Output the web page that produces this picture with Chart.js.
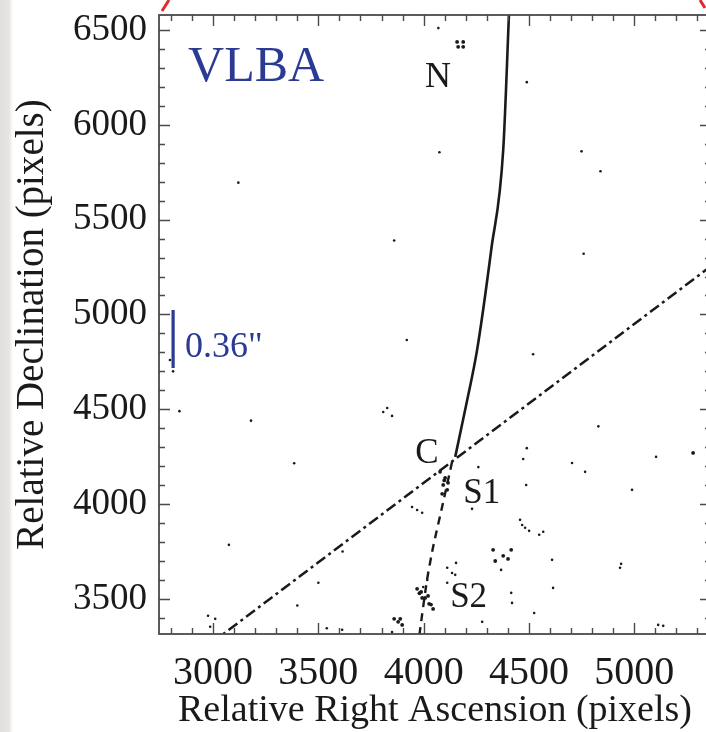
<!DOCTYPE html>
<html>
<head>
<meta charset="utf-8">
<title>VLBA</title>
<script src="https://cdn.jsdelivr.net/npm/chart.js@4.4.1/dist/chart.umd.min.js"></script>
<style>
  html, body { margin: 0; padding: 0; }
  body {
    width: 706px; height: 732px; overflow: hidden;
    background: linear-gradient(to right, #e2e0de 0, #e7e5e3 9px, #ffffff 13px);
  }
  #chart { display: block; }
</style>
</head>
<body>
<!-- canvas is a bit wider than the window: the right frame falls just outside, as in the original -->
<canvas id="chart" width="730" height="732"></canvas>
<script>
  // axis ticks
  const xTicks = [3000, 3500, 4000, 4500, 5000];
  const yTicks = [3500, 4000, 4500, 5000, 5500, 6000, 6500];

  // solid curve C -> N
  const jetX = [4150, 4207, 4254, 4321, 4378, 4406];
  const jetY = [4249, 4549, 4813, 5340, 5867, 6600];

  // dash-dot straight line
  const axisX = [2990, 5400];
  const axisY = [3266, 5284];

  // dashed line C -> S2
  const counterX = [4135, 4092, 4045, 4016, 3983, 3978];
  const counterY = [4222, 4006, 3774, 3600, 3337, 3290];

  // 0.36" scale bar
  const barX = [2810, 2810];
  const barY = [5024, 4718];

  // isolated noise contours
  const noiseX = [4070, 4490, 4075, 4750, 4840, 3120, 3860, 4760, 3920, 4520, 2795, 2810,
    2840, 3180, 3385, 3075, 3615, 3500, 3400, 3540, 3613, 3850, 4260, 4490, 4473, 4487,
    4230, 3945, 3969, 3993, 4830, 4705, 4767, 5104, 4990, 4368, 4610, 4938, 4933, 4615,
    4416, 4420, 4525, 5114, 5138, 4278, 4112, 4135, 4150, 4154, 4112, 3998, 4017,
    2976, 2986, 3010, 3808, 3827, 3850, 4549, 4568, 4458, 4468, 4482, 4501];
  const noiseY = [6510, 6225, 5855, 5860, 5755, 5695, 5390, 5320, 4865, 4790, 4760, 4700,
    4490, 4440, 4215, 3785, 3750, 3585, 3465, 3345, 3337, 3325, 4195, 4295, 4238, 4101,
    3975, 3985, 3969, 3954, 4410, 4217, 4170, 4249, 4075, 3653, 3706, 3685, 3664, 3558,
    3532, 3479, 3426, 3363, 3358, 3379, 3664, 3637, 3627, 3690, 3585, 3563, 3600,
    3411, 3353, 3395, 4486, 4507, 4465, 3838, 3854, 3917, 3890, 3875, 3859];

  // knots: N, C/S1, S2 and the larger blobs
  const knotX = [4159, 4188, 4164, 4188,
    4078, 4102, 4093, 4112, 4088, 4116, 4098,
    3969, 3988, 4007, 4026, 4045, 3993, 4021, 3980, 4035,
    3860, 3879, 3898, 3889,
    4330, 4378, 4416, 4401, 4340,
    5280];
  const knotY = [6437, 6437, 6411, 6411,
    4170, 4138, 4101, 4075, 4054, 4112, 4125,
    3553, 3537, 3505, 3474, 3447, 3505, 3516, 3530, 3470,
    3395, 3379, 3363, 3395,
    3759, 3727, 3759, 3711, 3700,
    4270];

  const BLUE = '#2b3a92';
  const INK = '#1a1a1a';
  const SERIF = '"Liberation Serif", "Times New Roman", serif';

  const pts = (xs, ys) => xs.map((x, i) => ({ x, y: ys[i] }));

  // inward ticks on all four sides + frame
  const frame = {
    id: 'frame',
    afterDatasetsDraw(chart) {
      const { ctx, chartArea: a, scales } = chart;
      const sx = scales.x, sy = scales.y;
      ctx.save();
      ctx.strokeStyle = '#4a4a4a';
      ctx.lineWidth = 1.4;
      ctx.beginPath();
      for (let v = Math.ceil(sx.min / 100) * 100; v <= sx.max; v += 100) {
        const p = Math.round(sx.getPixelForValue(v)) + 0.5;
        const len = v % 500 === 0 ? 11 : 6;
        ctx.moveTo(p, a.bottom); ctx.lineTo(p, a.bottom - len);
        ctx.moveTo(p, a.top); ctx.lineTo(p, a.top + len);
      }
      for (let v = Math.ceil(sy.min / 100) * 100; v <= sy.max; v += 100) {
        const p = Math.round(sy.getPixelForValue(v)) + 0.5;
        const len = v % 500 === 0 ? 11 : 6;
        ctx.moveTo(a.left, p); ctx.lineTo(a.left + len, p);
        ctx.moveTo(a.right, p); ctx.lineTo(a.right - len, p);
      }
      ctx.stroke();
      ctx.lineWidth = 1.8;
      ctx.strokeRect(a.left, a.top, a.right - a.left, a.bottom - a.top);

      // red marks peeking in above the frame
      ctx.strokeStyle = '#e42a2a';
      ctx.lineWidth = 3;
      ctx.beginPath();
      ctx.moveTo(162, 11); ctx.lineTo(169, 0);
      ctx.moveTo(700, 0); ctx.lineTo(705, 8);
      ctx.stroke();
      ctx.restore();
    }
  };

  const labels = {
    id: 'labels',
    afterDatasetsDraw(chart, args, opts) {
      const { ctx, scales } = chart;
      ctx.save();
      ctx.textAlign = 'left';
      ctx.textBaseline = 'alphabetic';
      opts.items.forEach(t => {
        ctx.font = `${t.size}px ${SERIF}`;
        ctx.fillStyle = t.color || INK;
        ctx.fillText(t.text, scales.x.getPixelForValue(t.x), scales.y.getPixelForValue(t.y));
      });
      ctx.restore();
    }
  };

  new Chart(document.getElementById('chart'), {
    type: 'scatter',
    data: {
      datasets: [
        { data: pts(noiseX, noiseY), pointRadius: 1.3, pointBackgroundColor: INK, pointBorderWidth: 0 },
        { data: pts(knotX, knotY), pointRadius: 1.9, pointBackgroundColor: INK, pointBorderWidth: 0 },
        { data: pts(jetX, jetY), showLine: true, cubicInterpolationMode: 'monotone', borderColor: INK, borderWidth: 2.6, pointRadius: 0 },
        { data: pts(axisX, axisY), showLine: true, borderColor: INK, borderWidth: 2.5, borderDash: [11, 4, 3, 4], pointRadius: 0 },
        { data: pts(counterX, counterY), showLine: true, tension: 0.2, borderColor: INK, borderWidth: 2.4, borderDash: [8, 6], pointRadius: 0 },
        { data: pts(barX, barY), showLine: true, borderColor: BLUE, borderWidth: 3.2, pointRadius: 0, clip: false }
      ]
    },
    options: {
      responsive: false,
      animation: false,
      events: [],
      layout: { padding: { top: 15, right: 19, left: 0, bottom: 0 } },
      plugins: {
        legend: { display: false },
        tooltip: { enabled: false },
        labels: {
          items: [
            { text: 'VLBA', x: 2881, y: 6230, size: 50, color: BLUE },
            { text: 'N', x: 4007, y: 6200, size: 36 },
            { text: 'C', x: 3960, y: 4217, size: 35 },
            { text: 'S1', x: 4188, y: 4006, size: 35 },
            { text: 'S2', x: 4126, y: 3458, size: 35 },
            { text: '0.36"', x: 2867, y: 4776, size: 36, color: BLUE }
          ]
        }
      },
      scales: {
        x: {
          type: 'linear', min: 2743, max: 5365,
          grid: { display: false, drawTicks: false },
          border: { display: false },
          afterBuildTicks: s => { s.ticks = xTicks.map(v => ({ value: v })); },
          afterFit: s => { s.height = 98; s.paddingLeft = 0; s.paddingRight = 0; },
          ticks: {
            padding: 15, color: INK, maxRotation: 0, autoSkip: false,
            font: { family: SERIF, size: 40 }, callback: v => String(v)
          },
          title: {
            display: true, text: 'Relative Right Ascension (pixels)', color: INK,
            padding: 0, font: { family: SERIF, size: 38, lineHeight: 1.1 }
          }
        },
        y: {
          type: 'linear', min: 3315, max: 6579,
          grid: { display: false, drawTicks: false },
          border: { display: false },
          afterBuildTicks: s => { s.ticks = yTicks.map(v => ({ value: v })); },
          afterFit: s => { s.width = 159; s.paddingTop = 0; s.paddingBottom = 0; },
          ticks: {
            padding: 12, color: INK, autoSkip: false,
            font: { family: SERIF, size: 37 }, callback: v => String(v)
          },
          title: {
            display: true, text: 'Relative Declination (pixels)', color: INK,
            padding: { top: 9, bottom: 0 }, font: { family: SERIF, size: 39 }
          }
        }
      }
    },
    plugins: [frame, labels]
  });
</script>
</body>
</html>
